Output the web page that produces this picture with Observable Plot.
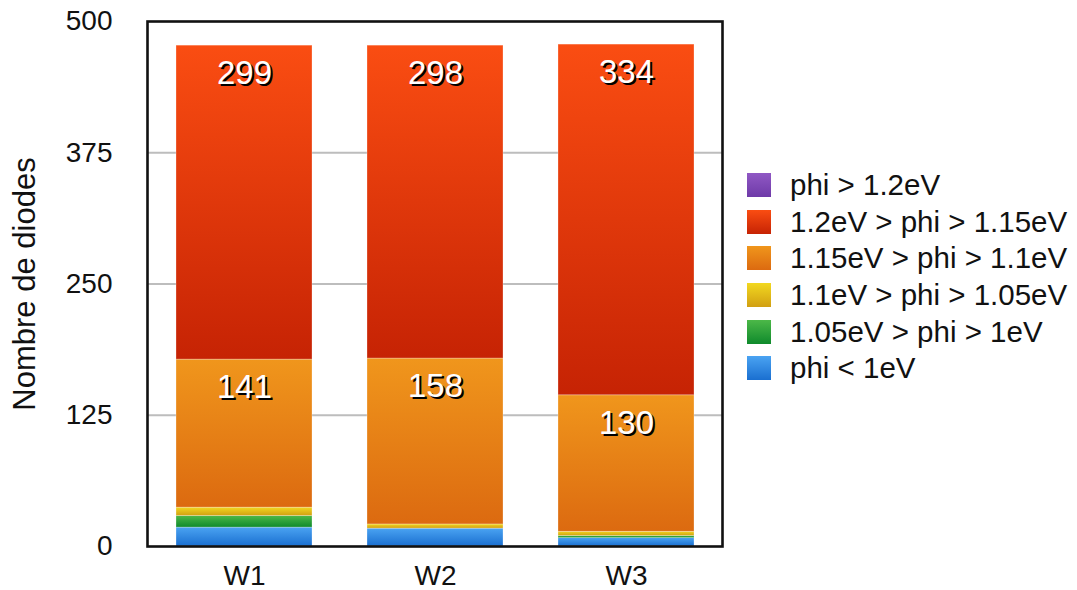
<!DOCTYPE html>
<html>
<head>
<meta charset="utf-8">
<script src="https://cdn.jsdelivr.net/npm/d3@7"></script>
<script src="https://cdn.jsdelivr.net/npm/@observablehq/plot@0.6"></script>
<style>
  body { margin: 0; background: #fff; font-family: "Liberation Sans", Arial, Helvetica, sans-serif; }
  #wrap { position: relative; width: 1077px; height: 590px; }
  #legend { position: absolute; left: 747px; top: 167px; font-size: 29.5px; color: #111; }
  .row { display: flex; align-items: center; height: 36.6px; white-space: nowrap; }
  .sw { width: 24px; height: 24px; margin-right: 19px; flex: none; }
  g[aria-label="y-axis label"] text { font-size: 31px; }
</style>
</head>
<body>
<div id="wrap"></div>
<script>
// ---- data ----
const wafers = ["W1", "W2", "W3"];
// series listed from bottom of stack to top
const series = [
  "phi < 1eV",
  "1.05eV > phi > 1eV",
  "1.1eV > phi > 1.05eV",
  "1.15eV > phi > 1.1eV",
  "1.2eV > phi > 1.15eV",
  "phi > 1.2eV"
];
const vLt100 = [18, 17, 8];
const v100_105 = [11, 0, 2];
const v105_110 = [8, 4, 4];
const v110_115 = [141, 158, 130];
const v115_120 = [299, 298, 334];
const vGt120 = [0, 0, 0];
const seriesValues = [vLt100, v100_105, v105_110, v110_115, v115_120, vGt120];
const yTicks = [0, 125, 250, 375, 500];
const legendOrder = [...series].reverse();

// gradient colours (top, bottom)
const grads = {
  "phi < 1eV": ["#4aa3f2", "#1a6fd0"],
  "1.05eV > phi > 1eV": ["#4cb848", "#0f8a2c"],
  "1.1eV > phi > 1.05eV": ["#f2d820", "#d19f12"],
  "1.15eV > phi > 1.1eV": ["#f0961c", "#dc6a10"],
  "1.2eV > phi > 1.15eV": ["#fa4d12", "#c62304"],
  "phi > 1.2eV": ["#9058c4", "#6e3aa8"]
};
const gradId = s => "g" + series.indexOf(s);

const rows = [];
series.forEach((s, i) => wafers.forEach((w, j) => rows.push({wafer: w, series: s, value: seriesValues[i][j]})));

const plot = Plot.plot({
  width: 730,
  height: 590,
  marginLeft: 147,
  marginRight: 8,
  marginTop: 21,
  marginBottom: 44,
  style: {fontFamily: "'Liberation Sans', Arial, sans-serif", fontSize: "28px", color: "#111", background: "#fff"},
  x: {domain: wafers, paddingInner: 0.29, paddingOuter: 0.15, label: null, tickSize: 0, tickPadding: 19},
  y: {domain: [0, 500], ticks: yTicks, tickSize: 0, tickPadding: 35, label: "Nombre de diodes",
      labelAnchor: "center", labelArrow: "none", labelOffset: 135},
  color: {domain: series, range: series.map(s => `url(#${gradId(s)})`)},
  marks: [
    Plot.gridY(yTicks.filter(t => t > 0 && t < 500), {stroke: "#bdbdbd", strokeOpacity: 1, strokeWidth: 2}),
    Plot.barY(rows, Plot.stackY({x: "wafer", y: "value", z: "series", fill: "series", order: null,
      stroke: "#ffffff", strokeOpacity: 0.35, strokeWidth: 0.8})),
    Plot.text(rows, Plot.stackY2({x: "wafer", y: "value", z: "series", order: null,
      text: d => d.value > 50 ? String(d.value) : "", fill: "#000", dx: 2, dy: 30,
      fontSize: 33, lineAnchor: "middle"})),
    Plot.text(rows, Plot.stackY2({x: "wafer", y: "value", z: "series", order: null,
      text: d => d.value > 50 ? String(d.value) : "", fill: "#fff", dy: 28,
      fontSize: 33, lineAnchor: "middle"})),
    Plot.frame({stroke: "#111", strokeWidth: 2.6})
  ]
});

// gradient definitions
const ns = "http://www.w3.org/2000/svg";
const defs = document.createElementNS(ns, "defs");
series.forEach(s => {
  const lg = document.createElementNS(ns, "linearGradient");
  lg.setAttribute("id", gradId(s));
  lg.setAttribute("x1", "0"); lg.setAttribute("y1", "0");
  lg.setAttribute("x2", "0"); lg.setAttribute("y2", "1");
  grads[s].forEach((c, k) => {
    const st = document.createElementNS(ns, "stop");
    st.setAttribute("offset", k ? "1" : "0");
    st.setAttribute("stop-color", c);
    lg.appendChild(st);
  });
  defs.appendChild(lg);
});
plot.insertBefore(defs, plot.firstChild);

const wrap = document.getElementById("wrap");
wrap.appendChild(plot);

// legend
const legend = document.createElement("div");
legend.id = "legend";
legendOrder.forEach(s => {
  const r = document.createElement("div");
  r.className = "row";
  const sw = document.createElement("div");
  sw.className = "sw";
  sw.style.background = `linear-gradient(${grads[s][0]}, ${grads[s][1]})`;
  const t = document.createElement("span");
  t.textContent = s;
  r.appendChild(sw); r.appendChild(t);
  legend.appendChild(r);
});
wrap.appendChild(legend);
</script>
</body>
</html>
